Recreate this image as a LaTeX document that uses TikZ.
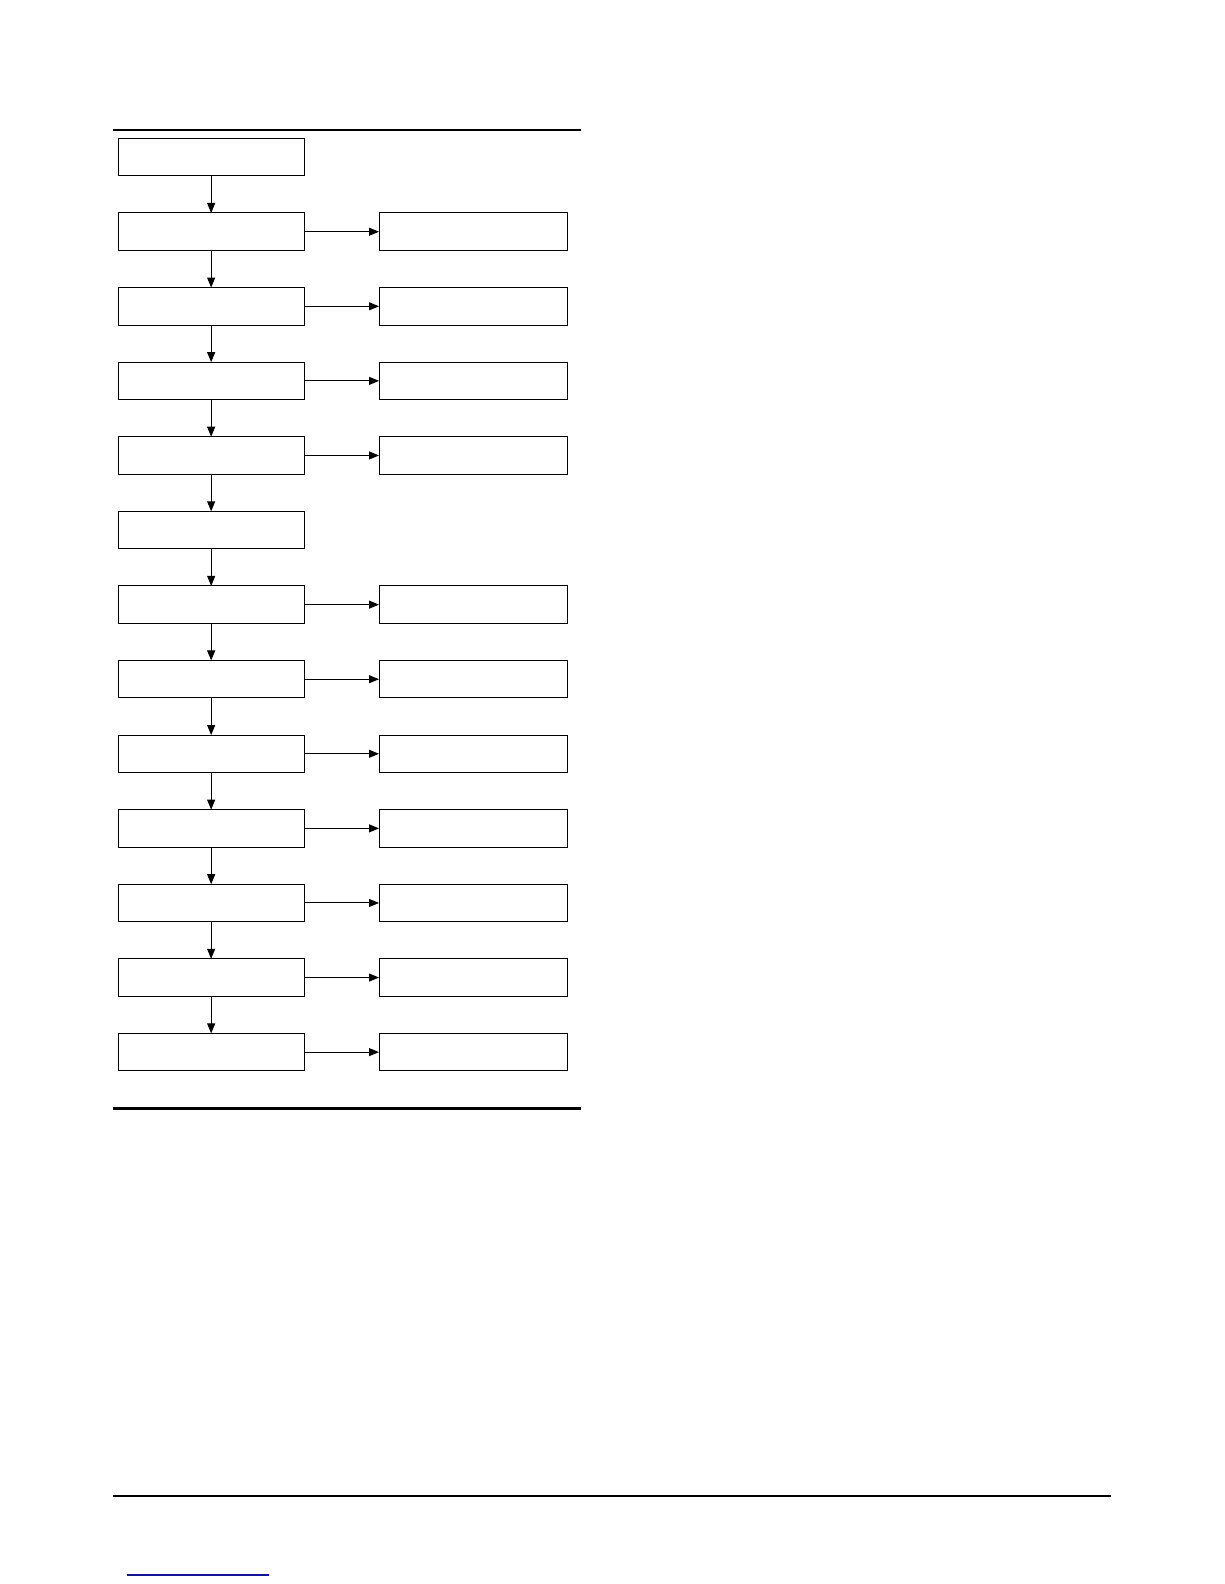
\documentclass[tikz,border=0pt]{standalone}
\usetikzlibrary{arrows.meta}
\begin{document}
\begin{tikzpicture}[x=1pt,y=-1pt,
  stepbox/.style={draw,line width=1pt,minimum width=185.7pt,minimum height=37.5pt,inner sep=0pt,outer sep=0pt,anchor=north west},
  sidebox/.style={stepbox,minimum width=188pt},
  flow/.style={line width=1pt,-{Triangle[length=10pt,width=8pt]}},
  rule/.style={line width=#1,line cap=butt}]
\useasboundingbox (0,0) rectangle (1224,1584);
\draw[rule=2pt] (112.7,130) -- (581,130);
\draw[rule=3pt] (112.7,1108) -- (581,1108);
\draw[rule=1.6pt] (113,1496) -- (1111,1496);
\draw[line width=1.6pt,color={rgb,255:red,20;green,20;blue,150}] (127,1575) -- (269,1575);
\foreach \i in {0,...,12}{
  \node[stepbox] (L\i) at (118.3,{138.4+74.58*\i}) {};
}
\foreach \i in {1,2,3,4,6,7,8,9,10,11,12}{
  \node[sidebox] (R\i) at (379,{138.4+74.58*\i}) {};
  \draw[flow] (L\i.east) -- (R\i.west);
}
\foreach \i [evaluate=\i as \j using int(\i+1)] in {0,...,11}{
  \draw[flow] (L\i.south) -- (L\j.north);
}
\end{tikzpicture}
\end{document}
